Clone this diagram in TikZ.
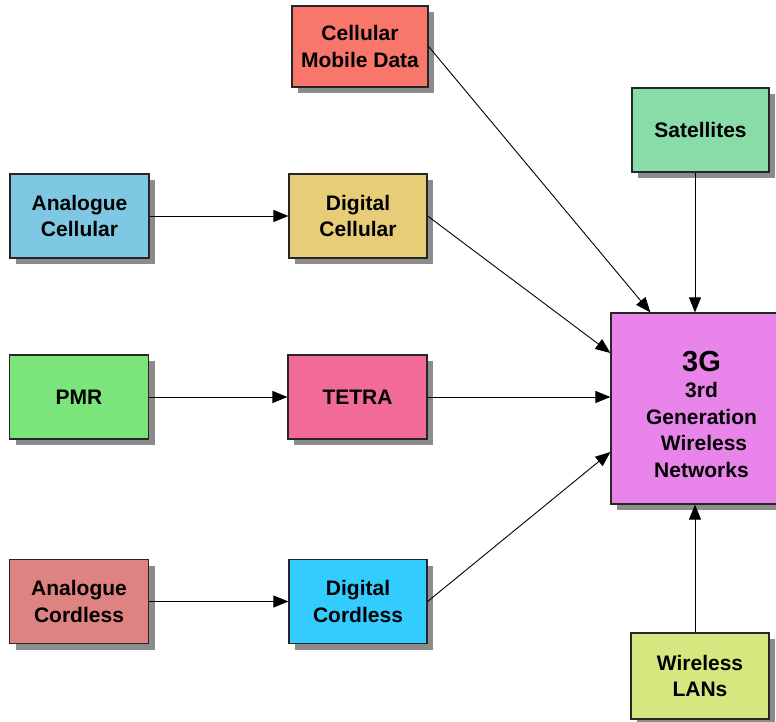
\documentclass[tikz,border=0pt]{standalone}
\usepackage{fontspec}
\setmainfont{Liberation Sans}
\usetikzlibrary{arrows.meta,shadows,calc}

\definecolor{cmdfill}{HTML}{F8766A}
\definecolor{satfill}{HTML}{88DCA8}
\definecolor{acfill}{HTML}{7EC8E3}
\definecolor{dcfill}{HTML}{E8CD78}
\definecolor{pmrfill}{HTML}{7BE57B}
\definecolor{tetrafill}{HTML}{F26A98}
\definecolor{gfill}{HTML}{E884EA}
\definecolor{acordfill}{HTML}{DE8282}
\definecolor{dcordfill}{HTML}{33CCFF}
\definecolor{wlanfill}{HTML}{D8E680}
\definecolor{shadowgray}{HTML}{8C8C8C}

\tikzset{
  boxfont/.style={font=\fontsize{21}{26.5}\selectfont\bfseries},
  blockbox/.style={draw=black!85, line width=1.2pt, minimum width=139pt, minimum height=84pt,
    inner sep=0pt, align=center, boxfont,
    general shadow={shadow xshift=6pt, shadow yshift=-6pt, fill=shadowgray, draw=none, opacity=1}},
  link/.style={line width=0.9pt, -{Triangle[length=15pt,width=12pt]}}
}

\begin{document}
\begin{tikzpicture}[x=1pt,y=1pt]
  \useasboundingbox (0,0) rectangle (776,-722);
  \clip (0,0) rectangle (776,-722);

  \node[blockbox, fill=cmdfill, minimum width=136pt, minimum height=81pt] (cmd) at (360,-46.5) {Cellular\\Mobile Data};
  \node[blockbox, fill=satfill, minimum width=137pt] (sat) at (700.5,-130) {Satellites};
  \node[blockbox, fill=acfill] (ac) at (79.5,-216) {Analogue\\Cellular};
  \node[blockbox, fill=dcfill, minimum width=138pt] (dc) at (358,-216) {Digital\\Cellular};
  \node[blockbox, fill=pmrfill] (pmr) at (79,-397) {PMR};
  \node[blockbox, fill=tetrafill] (tetra) at (357.5,-397) {TETRA};
  \node[blockbox, fill=gfill, minimum width=181pt, minimum height=191pt] (g3) at (701.5,-408.5) {};
  \node[align=center, boxfont, inner sep=0pt] (g3text) at (701.5,-414)
    {{\fontsize{29}{30}\selectfont 3G}\\[0pt]3rd\\Generation\\\hspace{5pt}Wireless\\Networks};
  \node[blockbox, fill=acordfill] (acord) at (79,-601.5) {Analogue\\Cordless};
  \node[blockbox, fill=dcordfill, minimum width=138pt] (dcord) at (358,-601.5) {Digital\\Cordless};
  \node[blockbox, fill=wlanfill, minimum width=138pt, minimum height=86pt] (wlan) at (700,-676) {Wireless\\LANs};

  % feeder links between generations
  \draw[link] (ac.east) -- (ac.east -| dc.west);
  \draw[link] (pmr.east) -- (pmr.east -| tetra.west);
  \draw[link] (acord.east) -- (acord.east -| dcord.west);

  % links into the 3G block
  \coordinate (cmdend) at ($(g3.north west)+(40,0)$);
  \draw[link] (cmd.east) -- (cmdend);
  \draw[link] (dc.east) -- ($(g3.west)+(0,55.5)$);
  \draw[link] (tetra.east) -- (tetra.east -| g3.west);
  \draw[link] (dcord.east) -- ($(g3.west)+(0,-43.5)$);
  \coordinate (satout) at ($(sat.south)+(-5.5,0)$);
  \draw[link] (satout) -- (satout |- g3.north);
  \coordinate (wlanout) at ($(wlan.north)+(-5,0)$);
  \draw[link] (wlanout) -- (wlanout |- g3.south);
\end{tikzpicture}
\end{document}
